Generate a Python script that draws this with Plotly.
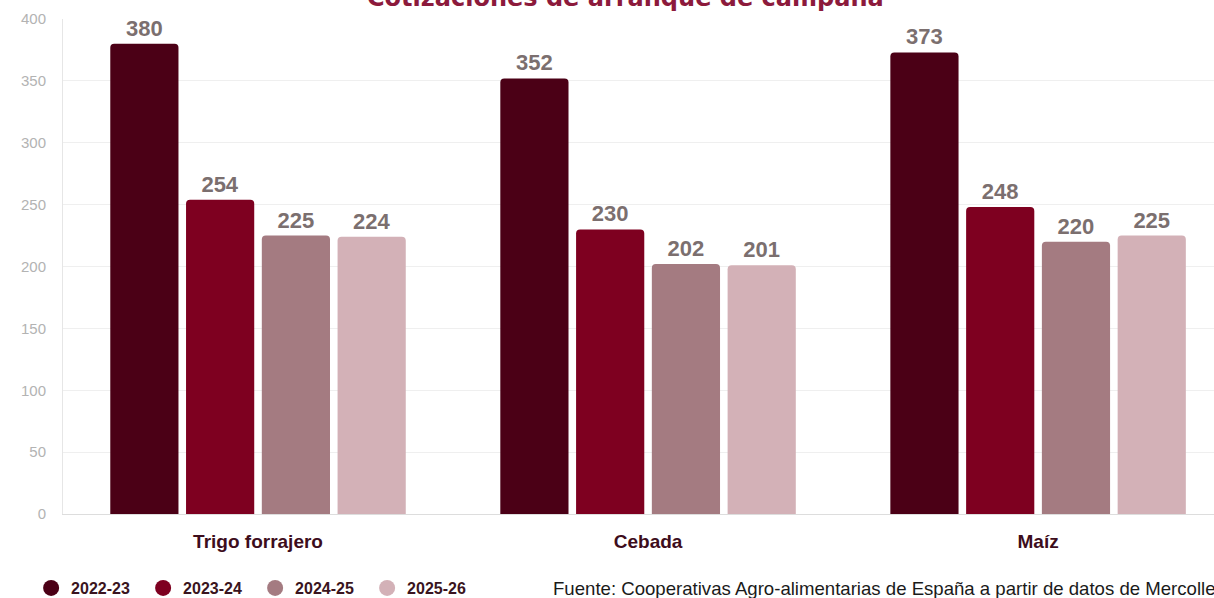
import plotly.graph_objects as go

categories = ["Trigo forrajero", "Cebada", "Maíz"]
seasons = ["2022-23", "2023-24", "2024-25", "2025-26"]
values = {
    "2022-23": [380, 352, 373],
    "2023-24": [254, 230, 248],
    "2024-25": [225, 202, 220],
    "2025-26": [224, 201, 225],
}
colors = ["#4b0016", "#7e0020", "#a47b81", "#d3b1b7"]
title_text = "Cotizaciones de arranque de campaña"
source_text = "Fuente: Cooperativas Agro-alimentarias de España a partir de datos de Mercolleida"
y_ticks = [0, 50, 100, 150, 200, 250, 300, 350, 400]

FONT = "Liberation Sans, Arial, Helvetica, sans-serif"

fig = go.Figure()
for s, c in zip(seasons, colors):
    fig.add_trace(go.Bar(
        x=categories, y=values[s], name=s,
        marker=dict(color=c, cornerradius=4, line=dict(width=0)),
        text=values[s], textposition="outside",
        textfont=dict(family=FONT, size=22, color="#7b6f6f", weight="bold"),
        cliponaxis=False, showlegend=False, hoverinfo="skip",
    ))
for s, c in zip(seasons, colors):
    fig.add_trace(go.Scatter(
        x=[None], y=[None], mode="markers", name=s,
        marker=dict(color=c, size=22, symbol="circle"),
        showlegend=True, hoverinfo="skip",
    ))

fig.update_layout(
    width=1214, height=598,
    margin=dict(l=63, r=0, t=19, b=84, autoexpand=False),
    paper_bgcolor="white", plot_bgcolor="white",
    barmode="group", bargap=0.223, bargroupgap=0.1,
    font=dict(family=FONT),
    showlegend=True,
    legend=dict(
        orientation="h", x=-0.0277, xanchor="left", y=-0.1495, yanchor="middle",
        entrywidth=67, entrywidthmode="pixels",
        font=dict(family=FONT, size=16, color="#3a1420", weight="bold"),
        itemsizing="trace", bgcolor="rgba(0,0,0,0)",
    ),
    xaxis=dict(
        range=[-0.5, 2.451], showgrid=False, zeroline=False,
        showline=True, linecolor="#dddddd", linewidth=1,
        tickfont=dict(family=FONT, size=19, color="#3d0d1c", weight="bold"),
        ticklabelstandoff=10,
    ),
    yaxis=dict(
        range=[0, 400], tickvals=y_ticks,
        showgrid=True, gridcolor="#efefef", gridwidth=1,
        zeroline=False, showline=True, linecolor="#e6e6e6", linewidth=1,
        tickfont=dict(family=FONT, size=15, color="#b3b3b3"),
        ticklabelstandoff=13,
    ),
    annotations=[
        dict(text=title_text, xref="paper", yref="paper", x=0.489, y=1.010,
             xanchor="center", yanchor="bottom", showarrow=False,
             font=dict(family="DejaVu Sans, Arial", size=24, color="#8c1a3c", weight="bold")),
        dict(text=source_text, xref="paper", yref="paper", x=0.424, y=-0.1495,
             xanchor="left", yanchor="middle", showarrow=False,
             font=dict(family=FONT, size=18.6, color="#1a1a1a")),
    ],
)

fig.write_html("out.html", config={"displayModeBar": False},
               post_script="document.body.style.margin='0';document.body.style.overflow='hidden';")
